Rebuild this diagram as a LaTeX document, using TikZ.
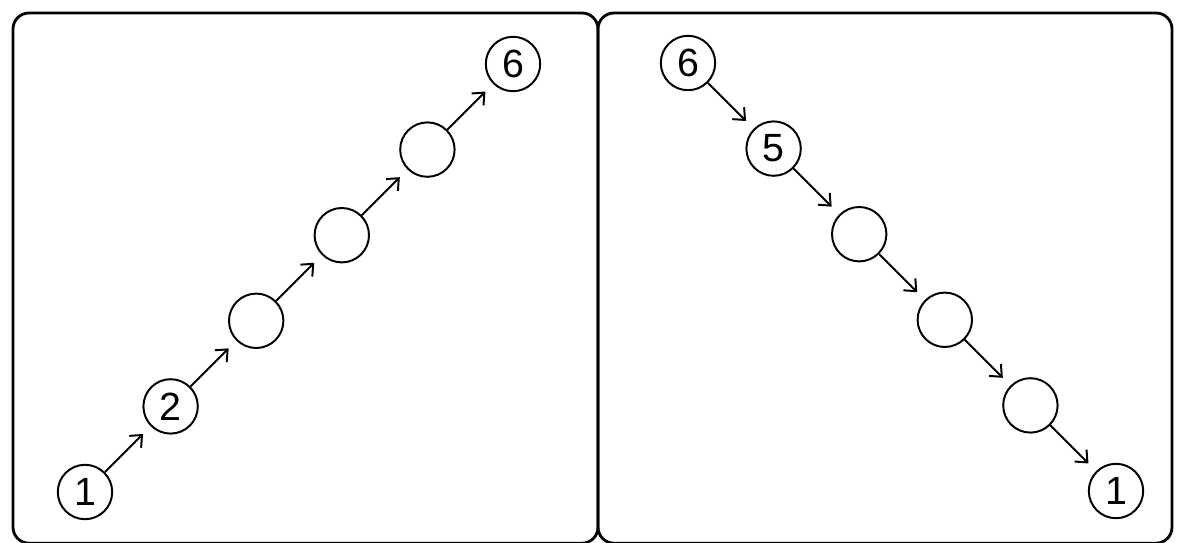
\documentclass[tikz,border=0pt]{standalone}
\usepackage{fontspec}
\setmainfont{Liberation Sans}
\usetikzlibrary{arrows.meta, positioning}
\tikzset{
  panel/.style={draw=black, line width=2pt, rounded corners=0.4cm},
  ball/.style={draw=black, circle, line width=1.4pt, minimum size=1.36cm, inner sep=0pt, font=\fontsize{28}{30}\selectfont},
  arrow/.style={-{Straight Barb[length=2.4mm,width=4.2mm]}, line width=1.4pt, draw=black, shorten >=0.27cm}
}

\begin{document}
\begin{tikzpicture}[node distance=2.14cm and 2.14cm, on grid]
\useasboundingbox (0,0) rectangle (29.5,-13.575);

\draw[panel] (0.325,-0.325) rectangle (14.95,-13.58);
\draw[panel] (14.95,-0.325) rectangle (29.3,-13.58);

% left panel: going up
\node[ball] (l1) at (2.125,-12.3) {1};
\node[ball, above right=of l1] (l2) {2};
\node[ball, above right=of l2] (l3) {};
\node[ball, above right=of l3] (l4) {};
\node[ball, above right=of l4] (l5) {};
\node[ball, above right=of l5] (l6) {6};

\draw[arrow] (l1) -- (l2);
\draw[arrow] (l2) -- (l3);
\draw[arrow] (l3) -- (l4);
\draw[arrow] (l4) -- (l5);
\draw[arrow] (l5) -- (l6);

% right panel: going down
\node[ball] (r6) at (17.2,-1.575) {6};
\node[ball, below right=of r6] (r5) {5};
\node[ball, below right=of r5] (r4) {};
\node[ball, below right=of r4] (r3) {};
\node[ball, below right=of r3] (r2) {};
\node[ball, below right=of r2] (r1) {1};

\draw[arrow] (r6) -- (r5);
\draw[arrow] (r5) -- (r4);
\draw[arrow] (r4) -- (r3);
\draw[arrow] (r3) -- (r2);
\draw[arrow] (r2) -- (r1);

\end{tikzpicture}
\end{document}
